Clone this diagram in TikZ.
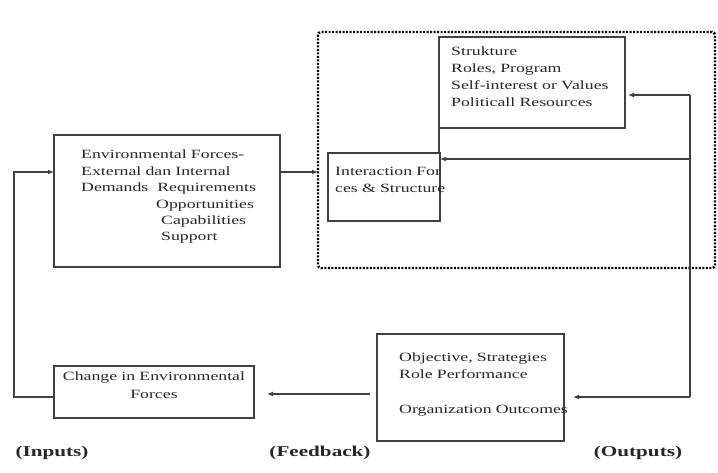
\documentclass[tikz,border=0pt]{standalone}
\usepackage{fontspec}
\setmainfont{Liberation Serif}[FakeStretch=1.41]
\usetikzlibrary{arrows.meta}
\begin{document}
\begin{tikzpicture}[x=1pt,y=-1pt,
  box/.style={draw=black!75, line width=1.3pt, rectangle, inner sep=0pt, outer sep=0pt},
  frame/.style={draw=black, line width=2.4pt, dash pattern=on 2pt off 1.5pt, rounded corners=3pt, rectangle, inner sep=0pt, outer sep=0pt},
  txt/.style={inner sep=0pt, anchor=base west, align=left, text width=230pt, text=black!85},
  ctxt/.style={inner sep=0pt, anchor=base, align=center, text width=200pt, text=black!85},
  link/.style={draw=black!75, line width=1.2pt},
  arr/.style={link, -{Latex[length=6pt,width=5pt]}},
  tag/.style={inner sep=0pt, anchor=base, font=\fontsize{15}{18}\selectfont\bfseries, text=black!85}]
\useasboundingbox (0,0) rectangle (718,473);

% boxes
\node[frame, minimum width=397pt, minimum height=236pt] (frame) at (516.5,150) {};
\node[box, minimum width=226pt, minimum height=132pt] (env) at (167,201) {};
\node[box, minimum width=186pt, minimum height=91pt] (struct) at (532,82.5) {};
\node[box, minimum width=112pt, minimum height=68pt] (inter) at (384,187) {};
\node[box, minimum width=187pt, minimum height=107pt] (obj) at (470.5,387.5) {};
\node[box, minimum width=200pt, minimum height=52pt] (change) at (154,392) {};

% box texts
\node[txt, font=\fontsize{12.6}{16.4}\selectfont] (envtext) at (81,159)
  {Environmental Forces-\\External dan Internal\\Demands\hspace{9pt}Requirements\\
   \hspace*{75pt}Opportunities\\\hspace*{80pt}Capabilities\\\hspace*{80pt}Support};
\node[txt, font=\fontsize{12.6}{16.7}\selectfont] (structtext) at (451,56)
  {Strukture\\Roles, Program\\Self-interest or Values\\Politicall Resources};
\node[txt, font=\fontsize{12.6}{16.2}\selectfont] (intertext) at (335,176)
  {Interaction For\\ces \& Structure};
\node[txt, font=\fontsize{12.6}{17.5}\selectfont] (objtext) at (399,361)
  {Objective, Strategies\\Role Performance\\\mbox{}\\Organization Outcomes};
\node[ctxt, font=\fontsize{12.6}{18}\selectfont] (changetext) at (154,380)
  {Change in Environmental\\Forces};

% column labels
\node[tag] (inputs) at (52,456) {(Inputs)};
\node[tag] (feedback) at (320,456) {(Feedback)};
\node[tag] (outputs) at (638,456) {(Outputs)};

% connector turning points
\coordinate (yin) at (0,172);
\coordinate (cl) at (14,397);
\coordinate (el) at (14,172);
\coordinate (fb) at (0,394);
\coordinate (rtop) at (690,95);
\coordinate (rmid) at (690,159);
\coordinate (rbot) at (690,397);

% connectors
\draw[arr] (env.east |- yin) -- (frame.west |- yin);
\draw[arr] (change.west |- cl) -- (cl) -- (el) -- (env.west |- el);
\draw[arr, shorten <=7pt, shorten >=13pt] (obj.west |- fb) -- (change.east |- fb);
\draw[arr, shorten >=3pt] (rtop) -- (struct.east |- rtop);
\draw[link] (rtop) -- (rbot);
\draw[arr] (rmid) -- (inter.east |- rmid);
\draw[arr, shorten >=9pt] (rbot) -- (obj.east |- rbot);
\draw[link] (struct.south west) -- (struct.south west |- inter.north);
\end{tikzpicture}
\end{document}
